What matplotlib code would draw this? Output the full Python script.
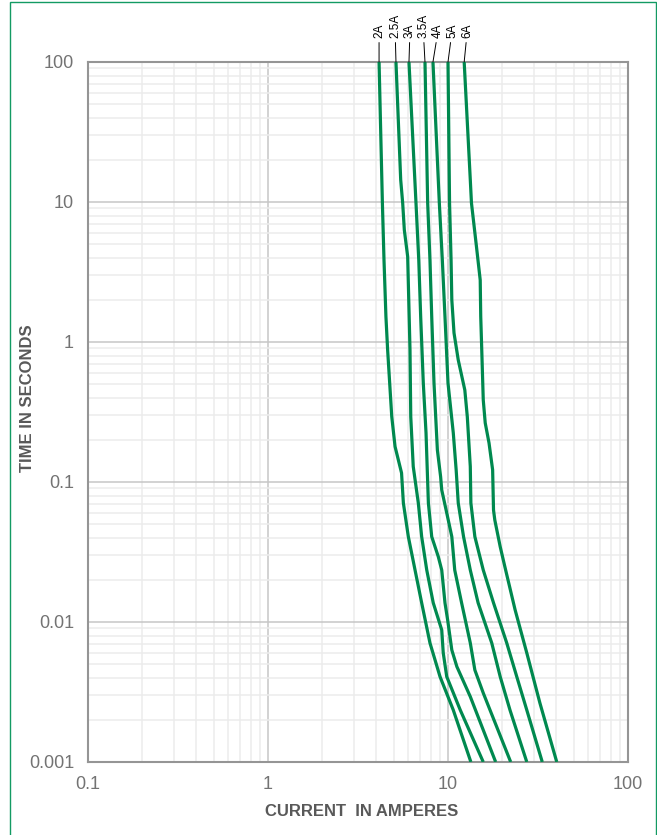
import matplotlib
matplotlib.use("Agg")
import matplotlib.pyplot as plt
from matplotlib.patches import Rectangle
from matplotlib.ticker import FixedLocator, FixedFormatter, LogLocator, NullFormatter

plt.rcParams['font.family'] = ['Liberation Sans', 'DejaVu Sans']

# Data (current in A, time in s)
labels = ["2A", "2.5A", "3A", "3.5A", "4A", "5A", "6A"]

i_2a = [4.14, 4.32, 4.41, 4.52, 4.62, 4.87, 5.08, 5.52, 5.65, 6.02, 6.56, 7.14, 7.94, 9.03, 10.7, 13.4]
t_2a = [100, 9.84, 3.85, 1.52, 0.877, 0.293, 0.179, 0.116, 0.0708, 0.0407, 0.0235, 0.0137, 0.00708, 0.00407, 0.00235, 0.001]

i_25a = [5.14, 5.46, 5.60, 5.72, 5.97, 6.02, 6.15, 6.21, 6.41, 6.84, 7.14, 7.62, 8.28, 9.23, 9.41, 9.84, 11.7, 15.7]
t_25a = [100, 14.4, 9.84, 6.31, 4.07, 2.64, 0.877, 0.293, 0.129, 0.0708, 0.0407, 0.0235, 0.0137, 0.00877, 0.00601, 0.00407, 0.00235, 0.001]

i_3a = [6.07, 6.64, 6.88, 7.05, 7.29, 7.55, 7.67, 7.78, 8.12, 8.83, 9.23, 9.62, 9.96, 10.5, 11.2, 13.3, 18.4]
t_3a = [100, 9.84, 3.85, 1.52, 0.509, 0.224, 0.122, 0.0708, 0.0407, 0.0293, 0.0235, 0.0137, 0.0103, 0.00631, 0.0048, 0.00293, 0.001]

i_35a = [7.45, 7.71, 7.94, 8.12, 8.36, 8.73, 9.10, 9.23, 9.84, 10.5, 10.9, 11.9, 13.3, 14.1, 15.7, 22.3]
t_35a = [100, 9.84, 3.85, 1.52, 0.509, 0.169, 0.109, 0.0877, 0.0601, 0.0407, 0.0235, 0.0137, 0.00708, 0.00454, 0.00311, 0.001]

i_4a = [8.25, 8.95, 9.30, 9.62, 10.0, 10.7, 11.1, 11.4, 12.2, 13.3, 14.7, 17.5, 19.5, 22.1, 27.4]
t_4a = [100, 9.84, 3.85, 1.52, 0.509, 0.224, 0.122, 0.0708, 0.0407, 0.0235, 0.0137, 0.00708, 0.00407, 0.00235, 0.001]

i_5a = [10.0, 10.2, 10.4, 10.5, 10.8, 11.4, 12.4, 12.8, 13.3, 13.4, 14.1, 15.7, 17.9, 21.2, 24.1, 27.4, 33.4]
t_5a = [100, 9.84, 3.85, 2.0, 1.16, 0.744, 0.454, 0.293, 0.129, 0.0708, 0.0407, 0.0235, 0.0137, 0.00708, 0.00407, 0.00235, 0.001]

i_6a = [12.3, 13.3, 13.5, 14.4, 15.1, 15.2, 15.4, 15.7, 16.1, 16.9, 17.7, 17.9, 18.2, 19.5, 20.7, 23.6, 27.4, 32.4, 40.2]
t_6a = [100, 14.4, 9.84, 4.77, 2.77, 1.52, 0.877, 0.385, 0.264, 0.19, 0.122, 0.0631, 0.0535, 0.0345, 0.0248, 0.0122, 0.00601, 0.00264, 0.001]

currents = [i_2a, i_25a, i_3a, i_35a, i_4a, i_5a, i_6a]
times = [t_2a, t_25a, t_3a, t_35a, t_4a, t_5a, t_6a]

x_ticks = [0.1, 1, 10, 100]
x_ticklabels = ["0.1", "1", "10", "100"]
y_ticks = [0.001, 0.01, 0.1, 1, 10, 100]
y_ticklabels = ["0.001", "0.01", "0.1", "1", "10", "100"]

# label offsets (points) for the rotated curve names
label_dx = [0, -0.7, 0.7, -1.4, 3.6, 2.9, 2.2]

green = "#00894f"
tick_grey = "#737373"

fig = plt.figure(figsize=(6.57, 8.35), dpi=100)
ax = fig.add_axes([88/657, 1 - 762/835, 540/657, 700/835])
ax.set_xscale("log")
ax.set_yscale("log")
ax.set_xlim(0.1, 100)
ax.set_ylim(0.001, 100)

# grid
ax.xaxis.set_minor_locator(LogLocator(base=10, subs=range(2, 10)))
ax.yaxis.set_minor_locator(LogLocator(base=10, subs=range(2, 10)))
ax.xaxis.set_minor_formatter(NullFormatter())
ax.yaxis.set_minor_formatter(NullFormatter())
ax.grid(which="minor", color="#ececec", lw=1.1)
ax.grid(which="major", color="#c6c6c6", lw=1.1)
ax.set_axisbelow(True)

for I, t in zip(currents, times):
    ax.plot(I, t, color=green, lw=2.3, solid_capstyle="butt", solid_joinstyle="round", zorder=3)

ax.xaxis.set_major_locator(FixedLocator(x_ticks))
ax.xaxis.set_major_formatter(FixedFormatter(x_ticklabels))
ax.yaxis.set_major_locator(FixedLocator(y_ticks))
ax.yaxis.set_major_formatter(FixedFormatter(y_ticklabels))
ax.tick_params(which="both", length=0, labelsize=13, colors=tick_grey)
ax.tick_params(axis="x", pad=10)
ax.tick_params(axis="y", pad=10)

for s in ax.spines.values():
    s.set_color("#959595")
    s.set_linewidth(1.5)

# curve names on top
for name, I, dx in zip(labels, currents, label_dx):
    ax.annotate(name, xy=(I[0], 100), xytext=(dx, 17), textcoords="offset points",
                rotation=90, ha="center", va="bottom", fontsize=8.5, color="black",
                annotation_clip=False,
                arrowprops=dict(arrowstyle="-", lw=0.7, color="black", shrinkA=1, shrinkB=0))

fig.text(362/657, 1 - 812/835, "CURRENT  IN AMPERES", ha="center", va="center",
         fontsize=12, fontweight="bold", color="#595959")
fig.text(28/657, 1 - 398/835, "TIME IN SECONDS", ha="center", va="center", rotation=90,
         fontsize=12, fontweight="bold", color="#595959")

# thin green frame around the figure
fig.patches.append(Rectangle((10/657, -0.05), 646/657, 1.05 - 2/835, transform=fig.transFigure,
                             fill=False, edgecolor="#139a63", lw=1.0))

fig.savefig("out.png", dpi=100)
